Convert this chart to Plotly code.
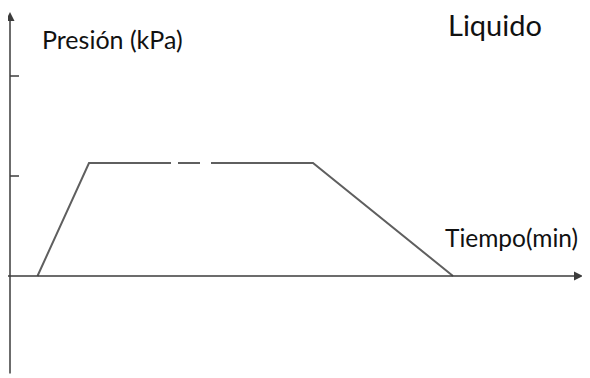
import plotly.graph_objects as go

# Pressure profile: ramp up, hold (drawn with two small gaps), ramp down
tiempo = [5.5, 15.8, 32.2, None, 33.6, 38.0, None, 40.2, 60.6, 88.6]
presion = [0, 113, 113, None, 113, 113, None, 113, 113, 0]

# small marks on the pressure axis
presion_ticks = [100, 200]

# the page body adds an 8px offset, so the figure is 8px smaller and shifted
fig_w, fig_h = 582, 370
x_min, x_max = -0.4, 116
y_min, y_max = -102, 268

line_color = '#5f5f5f'
axis_color = '#3c3c3c'
text_font = dict(family='Lato, Open Sans, sans-serif', size=25, color='#111111')

# label position helper: reference pixel -> paper coords
def px(x):
  return (x - 8) / fig_w

def py(y):
  return 1 - (y - 8) / fig_h

fig = go.Figure()

fig.add_trace(go.Scatter(
  x=tiempo,
  y=presion,
  mode='lines',
  line=dict(color=line_color, width=2),
  connectgaps=False,
  hoverinfo='skip'
))

# tick marks on the vertical axis
for p in presion_ticks:
  fig.add_trace(go.Scatter(
    x=[0, 1.8],
    y=[p, p],
    mode='lines',
    line=dict(color=axis_color, width=1.5),
    hoverinfo='skip'
  ))

# axes drawn as arrows
fig.add_annotation(x=0, y=264, ax=0, ay=-99, xref='x', yref='y', axref='x', ayref='y',
                   showarrow=True, arrowhead=2, arrowsize=1.2, arrowwidth=1.5,
                   arrowcolor=axis_color, text='')
fig.add_annotation(x=114.6, y=0, ax=-1, ay=0, xref='x', yref='y', axref='x', ayref='y',
                   showarrow=True, arrowhead=2, arrowsize=1.2, arrowwidth=1.5,
                   arrowcolor=axis_color, text='')

# labels
fig.add_annotation(x=px(40), y=py(39), xref='paper', yref='paper', xanchor='left', yanchor='middle',
                   text='Presión (kPa)', showarrow=False, font=text_font)
fig.add_annotation(x=px(446), y=py(24), xref='paper', yref='paper', xanchor='left', yanchor='middle',
                   text='Liquido', showarrow=False, font=dict(text_font, size=29))
fig.add_annotation(x=px(443), y=py(237), xref='paper', yref='paper', xanchor='left', yanchor='middle',
                   text='Tiempo(min)', showarrow=False, font=dict(text_font, size=24.5))

fig.update_layout(
  width=fig_w,
  height=fig_h,
  margin=dict(l=0, r=0, t=0, b=0),
  plot_bgcolor='white',
  paper_bgcolor='white',
  showlegend=False,
  xaxis=dict(range=[x_min, x_max], visible=False, fixedrange=True),
  yaxis=dict(range=[y_min, y_max], visible=False, fixedrange=True),
)

fig.write_html("out.html")
